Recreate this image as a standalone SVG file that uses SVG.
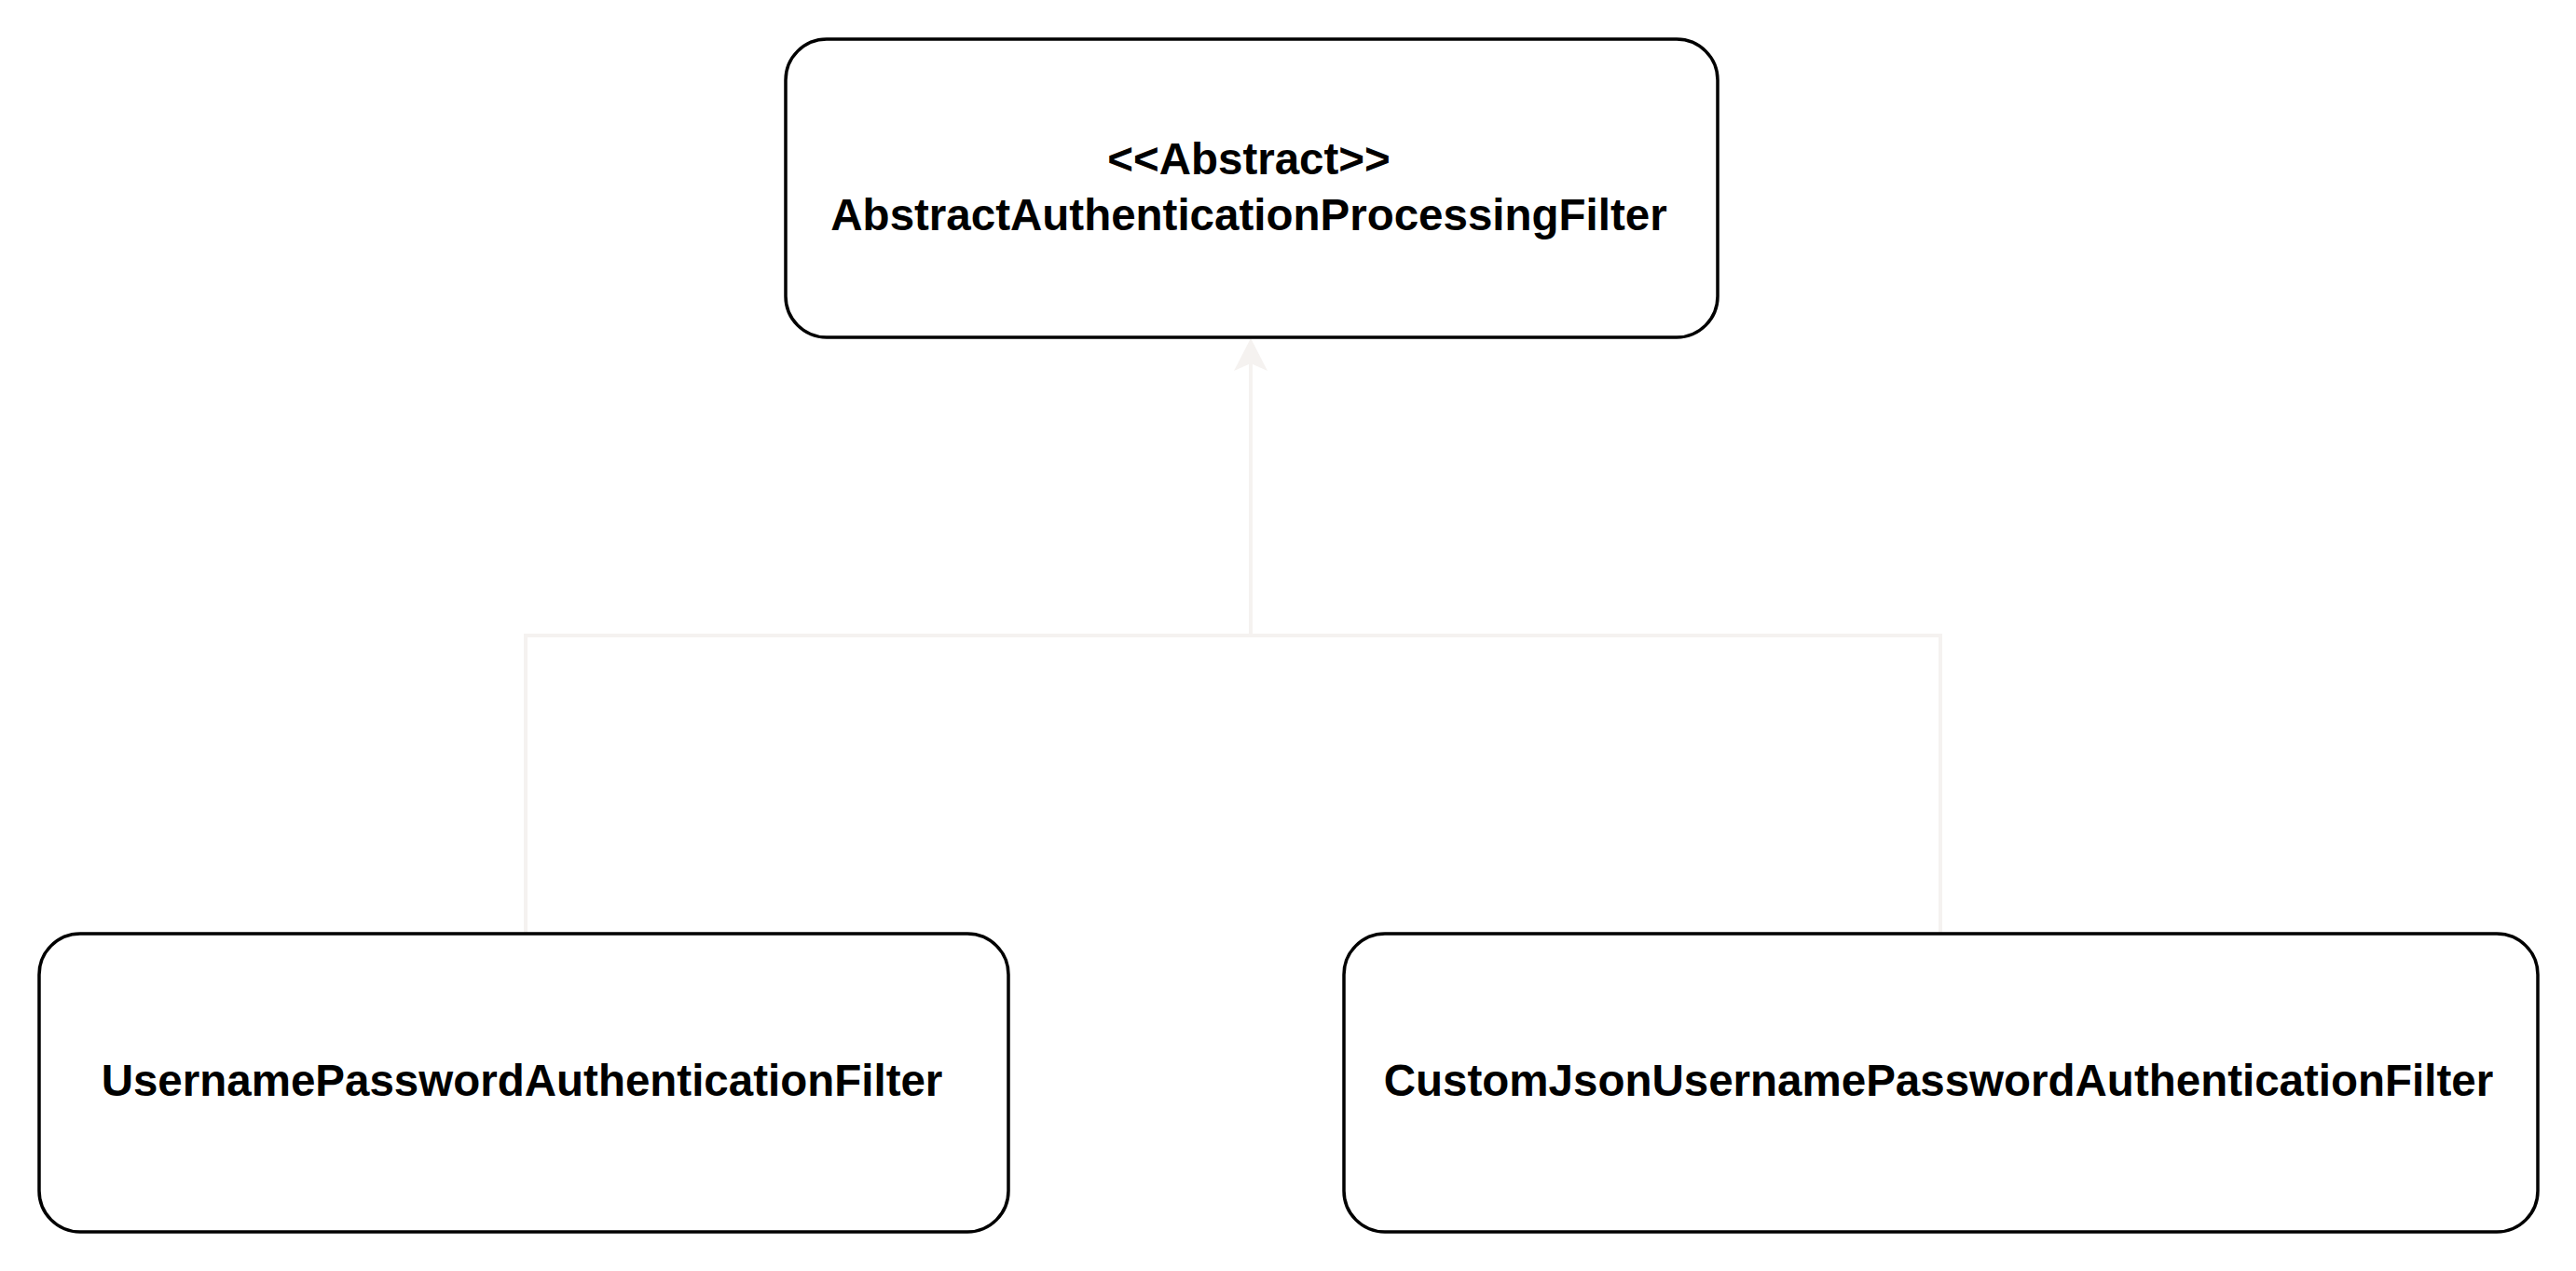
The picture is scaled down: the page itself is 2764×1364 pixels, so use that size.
<svg xmlns="http://www.w3.org/2000/svg" width="2764" height="1364" viewBox="0 0 2764 1364">
<style>
.node rect{fill:#ffffff;stroke:#000000;stroke-width:3.5}
.node text{font-family:"Liberation Sans",Arial,sans-serif;font-weight:bold;font-size:47.5px;fill:#000000;text-anchor:middle}
.conn{fill:none;stroke:#f5f2f0;stroke-width:4}
.head{fill:#f5f2f0;stroke:none}
</style>
<rect width="2764" height="1364" fill="#ffffff"/>
<g id="connectors">
<path class="conn" d="M1342,390 V682 M564,682 H2082 M564,680 V1001 M2082,680 V1001"/>
<path class="head" d="M1342,363 L1360,398 L1342,390 L1324,398 Z"/>
</g>
<g id="node-abstract" class="node">
<rect x="843" y="42" width="1000" height="320" rx="44" ry="44"/>
<text x="1340" y="187">&lt;&lt;Abstract&gt;&gt;</text>
<text x="1340" y="247">AbstractAuthenticationProcessingFilter</text>
</g>
<g id="node-username" class="node">
<rect x="42" y="1002" width="1040" height="320" rx="44" ry="44"/>
<text x="560" y="1176">UsernamePasswordAuthenticationFilter</text>
</g>
<g id="node-customjson" class="node">
<rect x="1442" y="1002" width="1281" height="320" rx="44" ry="44"/>
<text x="2080" y="1176">CustomJsonUsernamePasswordAuthenticationFilter</text>
</g>
</svg>
